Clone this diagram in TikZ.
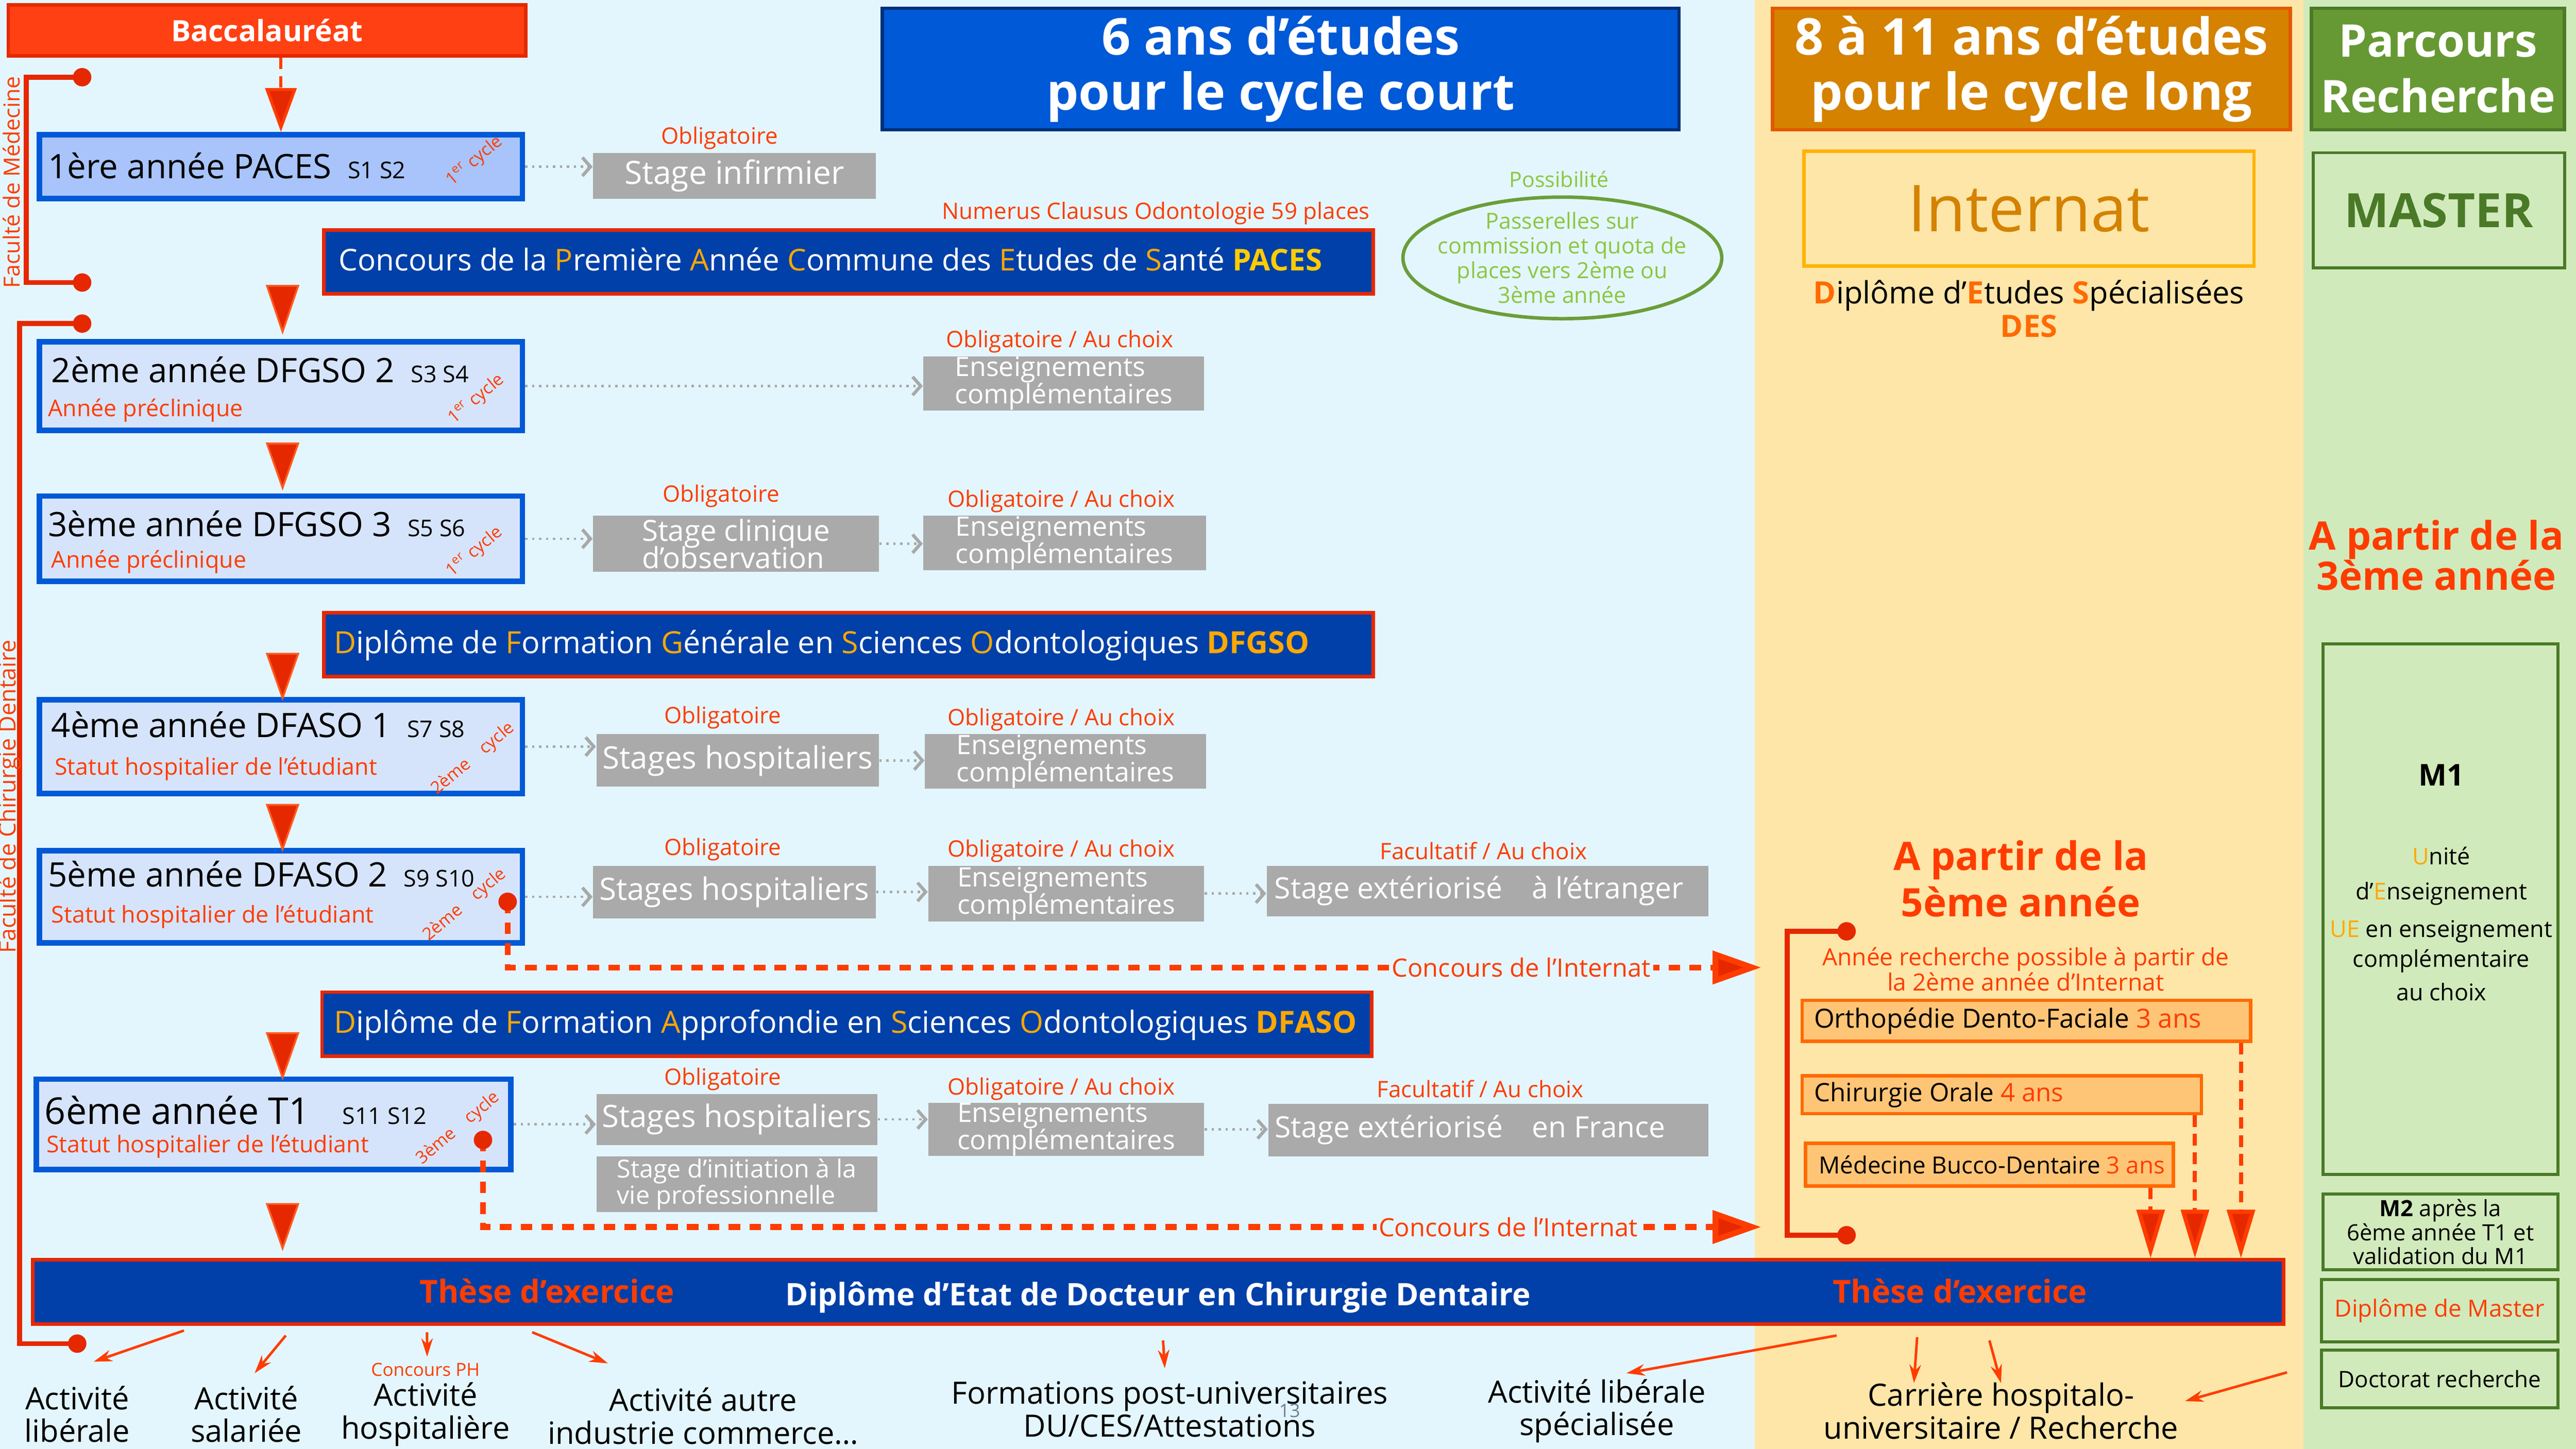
\documentclass[tikz,border=0pt]{standalone}
\usepackage{fontspec}
\setmainfont{Open Sans}
\usetikzlibrary{arrows.meta,shapes.geometric,calc}
\definecolor{bgblue}{HTML}{E3F6FD}
\definecolor{bgbeige}{HTML}{FDE6A8}
\definecolor{bggreen}{HTML}{D1EABB}
\definecolor{baccfill}{HTML}{FF4013}
\definecolor{baccdraw}{HTML}{E62800}
\definecolor{tblue}{HTML}{0059D6}
\definecolor{tblueb}{HTML}{00307A}
\definecolor{torange}{HTML}{D48200}
\definecolor{torangeb}{HTML}{E25800}
\definecolor{tgreen}{HTML}{669933}
\definecolor{tgreenb}{HTML}{4A7A28}
\definecolor{intyel}{HTML}{FFB300}
\definecolor{desor}{HTML}{FF6A00}
\definecolor{yblue}{HTML}{0059D6}
\definecolor{yfill}{HTML}{D6E4FB}
\definecolor{yfilla}{HTML}{A8C4FA}
\definecolor{barblue}{HTML}{0040A8}
\definecolor{barred}{HTML}{E62800}
\definecolor{accent}{HTML}{FFA800}
\definecolor{yel}{HTML}{FFCC00}
\definecolor{tred}{HTML}{FF3C00}
\definecolor{arrred}{HTML}{E62800}
\definecolor{trib}{HTML}{FF5A1F}
\definecolor{gbox}{HTML}{AAAAAA}
\definecolor{agrey}{HTML}{A8A8A8}
\definecolor{obfill}{HTML}{FFC576}
\definecolor{obdraw}{HTML}{FF6A00}
\definecolor{egreen}{HTML}{6A9E3A}
\definecolor{etext}{HTML}{8CC63F}
\definecolor{pnum}{HTML}{708090}
\newcommand\fsz[2]{\fontsize{#1pt}{#2pt}\selectfont\lineskiplimit=-50pt\relax}
\newcommand\orng[1]{\textcolor{accent}{#1}}
\newcommand\bx[7]{\node[#6, minimum width={(#4-#2)*0.025cm}, minimum height={(#5-#3)*0.025cm}] (#1) at ({(#2+#4)/2},{(#3+#5)/2}) {#7};}
\newcommand\bigtri[3]{\filldraw[tristyle] ({#1-9.5},#2) -- ({#1+9.5},#2) -- (#1,#3) -- cycle;}
\tikzset{
  baccbox/.style={fill=baccfill, draw=baccdraw, line width=1.5pt, text=white, inner sep=0},
  titlebox/.style={line width=1.5pt, text=white, font=\fsz{22}{24}\bfseries, align=center, inner sep=0},
  greenbox/.style={draw=tgreenb, line width=1.3pt, inner sep=0, align=center},
  yearbox/.style={draw=yblue, line width=2.4pt, fill=yfill, inner sep=0},
  ytext/.style={font=\fsz{14.6}{16}, inner sep=0, anchor=west},
  ysub/.style={font=\fsz{10}{11}, text=tred, inner sep=0, anchor=west},
  cyc/.style={text=tred, font=\fsz{7.5}{9}, inner sep=0, rotate=40},
  greybox/.style={fill=gbox, text=white, inner sep=0, align=left, font=\fsz{11.6}{11.8}},
  gtext/.style={text=white, inner sep=0, anchor=west, font=\fsz{12.7}{13}},
  bar/.style={fill=barblue, draw=barred, line width=1.5pt, inner sep=0},
  bartext/.style={text=white, font=\fsz{13.2}{14}, inner sep=0, anchor=west},
  lbl/.style={text=tred, font=\fsz{9.8}{11}, inner sep=0},
  dotarrow/.style={draw=agrey, line width=1pt, dotted, -{Straight Barb[length=3.5pt,width=8pt,line width=1.4pt]}},
  tristyle/.style={fill=arrred, draw=trib, line width=0.8pt},
  intline/.style={draw=tred, line width=2.5pt, dash pattern=on 5pt off 4pt, -{Triangle[length=21pt,width=14pt,fill=arrred]}},
  intlbl/.style={text=tred, fill=bgblue, font=\fsz{10.9}{12}, inner sep=1pt},
  dnarrow/.style={draw=tred, line width=1.8pt, dash pattern=on 5pt off 3pt, -{Triangle[length=21pt,width=12pt,fill=arrred]}},
  pinhead/.style={circle, fill=arrred, minimum size=0.28cm, inner sep=0},
  bracket/.style={draw=arrred, line width=2.2pt},
  obox/.style={fill=obfill, draw=obdraw, line width=1.5pt, inner sep=0},
  otext/.style={font=\fsz{11.4}{12}, inner sep=0, anchor=west},
  outtext/.style={font=\fsz{13.3}{14.2}, align=center, inner sep=0},
  outarrow/.style={draw=tred, line width=1.1pt, -{Stealth[length=8pt,width=5pt]}},
  m1text/.style={font=\fsz{10}{12}, inner sep=0}
}
\begin{document}
\begin{tikzpicture}[x=0.025cm,y=-0.025cm]
\useasboundingbox (0,0) rectangle (1568,882);
\fill[bgblue] (0,0) rectangle (1068,882);
\fill[bgbeige] (1068,0) rectangle (1402,882);
\fill[bggreen] (1402,0) rectangle (1568,882);

% ---------- headers
\bx{bacc}{5}{3}{320}{34}{baccbox}{\fsz{12.7}{14}\bfseries Baccalauréat}
\bx{tcourt}{537}{5}{1022}{79}{titlebox, fill=tblue, draw=tblueb}{6 ans d’études\\pour le cycle court}
\bx{tlong}{1079}{5}{1394}{79}{titlebox, fill=torange, draw=torangeb}{8 à 11 ans d’études\\pour le cycle long}
\bx{trech}{1407}{5}{1561}{79}{titlebox, fill=tgreen, draw=tgreenb, font=\fsz{19.5}{24}\bfseries}{Parcours\\Recherche}

% ---------- internat column
\bx{intbox}{1098}{92}{1372}{162}{draw=intyel, line width=1.5pt, inner sep=0, text=torange, font=\fsz{28}{30}}{Internat}
\node[font=\fsz{13.3}{14.5}, align=center, inner sep=0] (des) at (1235,188) {\textcolor{desor}{\bfseries D}iplôme d’\textcolor{desor}{\bfseries E}tudes \textcolor{desor}{\bfseries S}pécialisées\\\textcolor{desor}{\bfseries DES}};
\node[font=\fsz{17}{20}\bfseries, text=tred, align=center, inner sep=0] (ap5) at (1230,535) {A partir de la\\5ème année};
\node[lbl, align=center, font=\fsz{10.3}{11}] (arech) at (1233,590) {Année recherche possible à partir de\\la 2ème année d’Internat};
\bx{odf}{1097}{609}{1370}{634}{obox}{}
\node[otext] (odft) at ([xshift=0.2cm]odf.west) {Orthopédie Dento-Faciale \textcolor{tred}{3 ans}};
\bx{cho}{1097}{655}{1340}{678}{obox}{}
\node[otext, font=\fsz{11}{12}] (chot) at ([xshift=0.2cm]cho.west) {Chirurgie Orale \textcolor{tred}{4 ans}};
\bx{mbd}{1099}{696}{1323}{722}{obox}{}
\node[otext, font=\fsz{10.2}{12}] (mbdt) at ([xshift=0.22cm]mbd.west) {Médecine Bucco-Dentaire \textcolor{tred}{3 ans}};

% ---------- recherche column
\bx{master}{1408}{93}{1561}{163}{greenbox}{\fsz{20.5}{22}\bfseries\color{tgreenb}MASTER}
\node[font=\fsz{17}{17.5}\bfseries, text=tred, align=center, inner sep=0] (ap3) at (1483,338) {A partir de la\\3ème année};
\bx{m1}{1414}{392}{1557}{715}{greenbox}{}
\node[m1text, font=\fsz{13}{14}\bfseries] (m1a) at (1486,472) {M1};
\node[m1text] (m1b) at (1486,521) {\orng{U}nité};
\node[m1text] (m1c) at (1486,544) {d’\orng{E}nseignement};
\node[m1text] (m1d) at (1486,567) {\orng{UE} en enseignement};
\node[m1text] (m1e) at (1486,585) {complémentaire};
\node[m1text] (m1f) at (1486,604) {au choix};
\bx{m2}{1414}{727}{1557}{773}{greenbox, font=\fsz{9.7}{10.3}}{\textbf{M2} après la\\6ème année T1 et\\validation du M1}
\bx{dm}{1413}{779}{1557}{817}{greenbox, font=\fsz{10.2}{12}, text=tred}{Diplôme de Master}
\bx{doc}{1413}{822}{1557}{857}{greenbox, font=\fsz{9.8}{12}}{Doctorat recherche}

% ---------- year boxes
\bx{y1}{24}{82}{318}{121}{yearbox, fill=yfilla}{}
\node[ytext] (y1t) at (29,101) {1ère année PACES\hspace{7pt}{\fsz{10}{12}S1 S2}};
\node[cyc] (y1c) at (289,98) {1\textsuperscript{er} cycle};

\bx{y2}{24}{208}{318}{262}{yearbox}{}
\node[ytext] (y2t) at (31,225) {2ème année DFGSO 2\hspace{7pt}{\fsz{10}{12}S3 S4}};
\node[ysub] (y2s) at (29,250) {Année préclinique};
\node[cyc] (y2c) at (290,243) {1\textsuperscript{er} cycle};

\bx{y3}{24}{302}{318}{354}{yearbox}{}
\node[ytext] (y3t) at (29,319) {3ème année DFGSO 3\hspace{7pt}{\fsz{10}{12}S5 S6}};
\node[ysub] (y3s) at (31,342) {Année préclinique};
\node[cyc] (y3c) at (289,336) {1\textsuperscript{er} cycle};

\bx{y4}{24}{426}{318}{483}{yearbox}{}
\node[ytext] (y4t) at (31,441) {4ème année DFASO 1\hspace{7pt}{\fsz{10}{12}S7 S8}};
\node[ysub] (y4s) at (33,468) {Statut hospitalier de l’étudiant};
\node[cyc] (y4c) at (288,462) {2ème\quad cycle};

\bx{y5}{24}{518}{318}{574}{yearbox}{}
\node[ytext] (y5t) at (29,532) {5ème année DFASO 2\hspace{7pt}{\fsz{10}{12}S9 S10}};
\node[ysub] (y5s) at (31,558) {Statut hospitalier de l’étudiant};
\node[cyc] (y5c) at (283,551) {2ème\quad cycle};

\bx{y6}{22}{657}{311}{712}{yearbox}{}
\node[ytext, font=\fsz{16}{17}] (y6t) at (27,676) {6ème année T1\hspace{14pt}{\fsz{10}{12}S11 S12}};
\node[ysub] (y6s) at (28,698) {Statut hospitalier de l’étudiant};
\node[cyc] (y6c) at (279,687) {3ème\quad cycle};

% ---------- big triangles
\draw[draw=tred, line width=1.3pt, dash pattern=on 5pt off 3pt, -{Triangle[length=19pt,width=13.5pt,fill=arrred]}] (bacc.south -| y1.north) -- (y1.north);
\bigtri{172}{174}{202}
\bigtri{172}{270}{297}
\bigtri{172}{398}{425}
\bigtri{172}{490}{517}
\bigtri{172}{629}{656}
\bigtri{172}{733}{760}

% ---------- diploma bars
\bx{bpaces}{197}{140}{836}{179}{bar}{}
\node[bartext, font=\fsz{13}{14}] (bpacest) at (206,158) {Concours de la \orng{P}remière \orng{A}nnée \orng{C}ommune des \orng{E}tudes de \orng{S}anté \textcolor{yel}{\bfseries PACES}};
\node[lbl, anchor=east] (nc) at (834,130) {Numerus Clausus Odontologie 59 places};
\bx{bdfgso}{197}{373}{836}{412}{bar}{}
\node[bartext] (bdfgsot) at (203,393) {\orng{D}iplôme de \orng{F}ormation \orng{G}énérale en \orng{S}ciences \orng{O}dontologiques \orng{\bfseries DFGSO}};
\bx{bdfaso}{196}{604}{835}{643}{bar}{}
\node[bartext] (bdfasot) at (203,624) {\orng{D}iplôme de \orng{F}ormation \orng{A}pprofondie en \orng{S}ciences \orng{O}dontologiques \orng{\bfseries DFASO}};
\bx{bar}{20}{767}{1390}{806}{bar}{}
\node[font=\fsz{13.7}{14}\bfseries, text=tred, inner sep=0] (these1) at (333,786) {Thèse d’exercice};
\node[font=\fsz{13.4}{14}\bfseries, text=white, inner sep=0] (dedc) at (705,790) {Diplôme d’Etat de Docteur en Chirurgie Dentaire};
\node[font=\fsz{13.7}{14}\bfseries, text=tred, inner sep=0] (these2) at (1193,786) {Thèse d’exercice};

% ---------- grey boxes
\bx{gi1}{361}{93}{533}{121}{greybox, font=\fsz{13.9}{14}}{Stage infirmier}
\node[lbl] (gi1l) at (438,84) {Obligatoire};
\bx{ens2}{562}{217}{733}{250}{greybox}{Enseignements\\complémentaires}
\node[lbl] (ens2l) at (645,208) {Obligatoire / Au choix};
\bx{sc3}{361}{314}{535}{348}{greybox, font=\fsz{12.6}{11.8}}{Stage clinique\\d’observation}
\node[lbl] (sc3l) at (439,302) {Obligatoire};
\bx{ens3}{562}{314}{734}{347}{greybox}{Enseignements\\complémentaires}
\node[lbl] (ens3l) at (646,305) {Obligatoire / Au choix};
\bx{sh4}{363}{447}{535}{479}{greybox, font=\fsz{13.4}{14}}{Stages hospitaliers}
\node[lbl] (sh4l) at (440,437) {Obligatoire};
\bx{ens4}{563}{447}{734}{480}{greybox}{Enseignements\\complémentaires}
\node[lbl] (ens4l) at (646,438) {Obligatoire / Au choix};
\bx{sh5}{361}{527}{533}{559}{greybox, font=\fsz{13.4}{14}}{Stages hospitaliers}
\node[lbl] (sh5l) at (440,517) {Obligatoire};
\bx{ens5}{565}{527}{733}{561}{greybox}{Enseignements\\complémentaires}
\node[lbl] (ens5l) at (646,518) {Obligatoire / Au choix};
\bx{ext5}{771}{527}{1040}{558}{greybox}{}
\node[gtext] (ext5t) at ([xshift=0.12cm]ext5.west) {Stage extériorisé\quad à l’étranger};
\node[lbl] (ext5l) at (903,518) {Facultatif / Au choix};
\bx{sh6}{363}{666}{534}{697}{greybox, font=\fsz{13.4}{14}}{Stages hospitaliers}
\node[lbl] (sh6l) at (440,657) {Obligatoire};
\bx{ens6}{565}{672}{733}{703}{greybox}{Enseignements\\complémentaires}
\node[lbl] (ens6l) at (646,663) {Obligatoire / Au choix};
\bx{ext6}{772}{672}{1040}{704}{greybox}{}
\node[gtext] (ext6t) at ([xshift=0.1cm]ext6.west) {Stage extériorisé\quad en France};
\node[lbl] (ext6l) at (901,663) {Facultatif / Au choix};
\bx{ini6}{363}{704}{534}{738}{greybox, font=\fsz{10.8}{11.5}}{Stage d’initiation à la\\vie professionnelle}

% ---------- dotted arrows
\draw[dotarrow] (y1.east) -- (y1.east -| gi1.west);
\draw[dotarrow] (y2.east) -- (y2.east -| ens2.west);
\draw[dotarrow] (y3.east) -- (y3.east -| sc3.west);
\draw[dotarrow] (sc3.east) -- (sc3.east -| ens3.west);
\draw[dotarrow] (y4.east) -- (y4.east -| sh4.west);
\draw[dotarrow] (sh4.east) -- (sh4.east -| ens4.west);
\draw[dotarrow] (y5.east) -- (y5.east -| sh5.west);
\draw[dotarrow] (sh5.east) -- (sh5.east -| ens5.west);
\draw[dotarrow] (ens5.east) -- (ens5.east -| ext5.west);
\draw[dotarrow] (y6.east) -- (y6.east -| sh6.west);
\draw[dotarrow] (sh6.east) -- (sh6.east -| ens6.west);
\draw[dotarrow] (ens6.east) -- (ens6.east -| ext6.west);

% ---------- possibilite
\node[text=etext, font=\fsz{9.2}{11}, inner sep=0] (poss) at (949,109) {Possibilité};
\node[ellipse, draw=egreen, line width=1.5pt, minimum width=4.85cm, minimum height=1.85cm, inner sep=0] (pass) at (951,157) {};
\node[text=etext, font=\fsz{9.6}{10.7}, align=center, inner sep=0] (passt) at (pass.center) {Passerelles sur\\commission et quota de\\places vers 2ème ou\\3ème année};

% ---------- concours de l'internat
\coordinate (p5c) at (309,549);
\coordinate (i5) at (1072,589);
\draw[intline] (p5c) |- (i5);
\node[pinhead] (p5) at (p5c) {};
\node[intlbl] (i5l) at (926,589) {Concours de l’Internat};
\coordinate (p6c) at (294,694);
\coordinate (i6) at (1072,747);
\draw[intline] (p6c) |- (i6);
\node[pinhead] (p6) at (p6c) {};
\node[intlbl] (i6l) at (918,747) {Concours de l’Internat};

% ---------- brackets
\coordinate (lm1) at (50,47);
\coordinate (lm2) at (50,172);
\draw[bracket] (lm1) -- ++(-34,0) |- (lm2);
\node[pinhead] (lm1p) at (lm1) {};
\node[pinhead] (lm2p) at (lm2) {};
\node[rotate=90, text=tred, font=\fsz{9.6}{11}, inner sep=0] (fmed) at (7,111) {Faculté de Médecine};
\coordinate (ld1) at (50,197);
\coordinate (ld2) at (47,818);
\draw[bracket] (ld1) -- ++(-38,0) |- (ld2);
\node[pinhead] (ld1p) at (ld1) {};
\node[pinhead] (ld2p) at (ld2) {};
\node[rotate=90, text=tred, font=\fsz{10}{11}, inner sep=0] (fdent) at (6,485) {Faculté de Chirurgie Dentaire};
\coordinate (rb1) at (1124,567);
\coordinate (rb2) at (1124,752);
\draw[bracket] (rb1) -- ++(-36,0) |- (rb2);
\node[pinhead] (rb1p) at (rb1) {};
\node[pinhead] (rb2p) at (rb2) {};

% ---------- DES to thesis
\draw[dnarrow] ([xshift=-0.175cm]odf.south east) -- ([xshift=-0.175cm]odf.south east |- bar.north);
\draw[dnarrow] ([xshift=-0.125cm]cho.south east) -- ([xshift=-0.125cm]cho.south east |- bar.north);
\draw[dnarrow] ([xshift=-0.375cm]mbd.south east) -- ([xshift=-0.375cm]mbd.south east |- bar.north);

% ---------- outputs
\node[outtext] (lib) at (47,861) {Activité\\libérale};
\node[outtext] (sal) at (150,861) {Activité\\salariée};
\node[lbl, font=\fsz{7.8}{9}] (cph) at (259,834) {Concours PH};
\node[outtext] (hos) at (259,861) {Activité\\hospitalière};
\node[outtext] (aut) at (428,862) {Activité autre\\industrie commerce…};
\node[outtext] (form) at (712,858) {Formations post-universitaires\\DU/CES/Attestations};
\node[text=pnum, font=\fsz{8}{9}, inner sep=0] (pg) at (785,859) {13};
\node[outtext] (libs) at (972,859) {Activité libérale\\spécialisée};
\node[outtext] (car) at (1218,859) {Carrière hospitalo-\\universitaire / Recherche};

\draw[outarrow] ($(bar.south west)+(93,3)$) -- ($(lib)+(10,-32)$);
\draw[outarrow] ($(bar.south west)+(155,6)$) -- ($(sal)+(5,-25)$);
\draw[outarrow] ($(bar.south west)+(241,4)$) -- ($(hos)+(1,-35)$);
\draw[outarrow] ($(bar.south west)+(305,4)$) -- ($(aut)+(-58,-32)$);
\draw[outarrow] ($(bar.south west)+(689,9)$) -- ($(form)+(-3,-25)$);
\draw[outarrow] ($(bar.south west)+(1099,6)$) -- ($(libs)+(18,-23)$);
\draw[outarrow] ($(bar.south west)+(1148,7)$) -- ($(car)+(-53,-17)$);
\draw[outarrow] ($(bar.south west)+(1192,9)$) -- ($(car)+(0,-17)$);
\draw[outarrow] ($(doc.west)+(-20,-4)$) -- ($(car)+(112,-6)$);
\end{tikzpicture}
\end{document}
